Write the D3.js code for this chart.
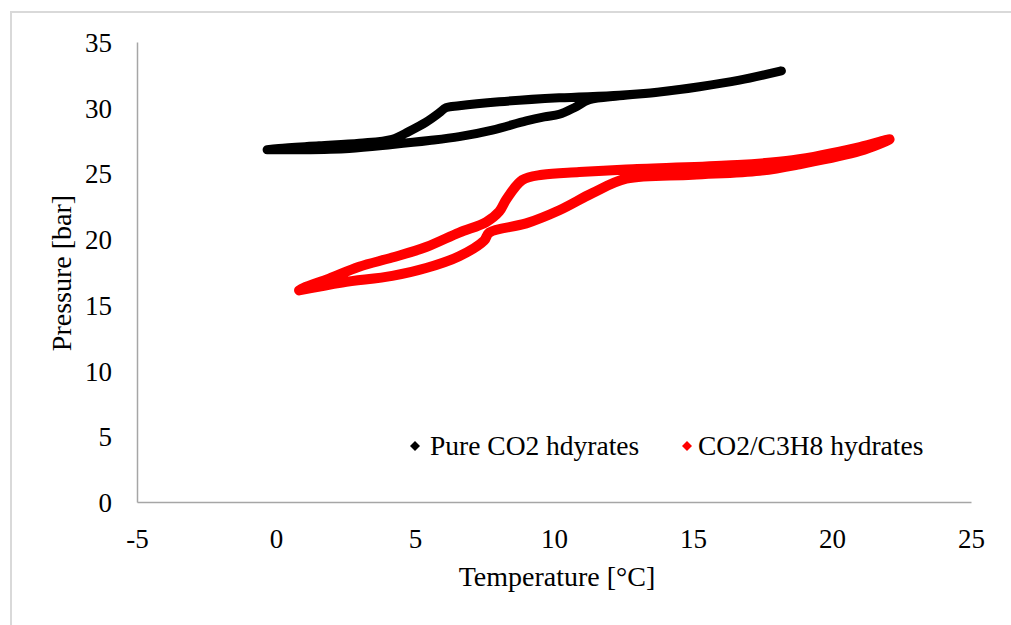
<!DOCTYPE html>
<html>
<head>
<meta charset="utf-8">
<script src="https://cdn.jsdelivr.net/npm/d3@7"></script>
<style>
  html, body { margin: 0; padding: 0; background: #fff; }
  svg { display: block; }
  text { font-family: "Liberation Serif", "Times New Roman", serif; fill: #000; }
</style>
</head>
<body>
<svg id="chart" width="1011" height="625"></svg>
<script>
// ---- Data ----
const xTicks = [-5, 0, 5, 10, 15, 20, 25];
const yTicks = [0, 5, 10, 15, 20, 25, 30, 35];
const seriesNames = ["Pure CO2 hdyrates", "CO2/C3H8 hydrates"];
const seriesColors = ["#000000", "#ff0000"];

// Pure CO2: heating branch (lower), then cooling branch (upper)
const co2Temp = [-0.32, 0.83, 2.63, 4.18, 5.51, 6.59, 7.78, 9.0, 9.65, 10.19, 10.73, 11.27, 12.35, 13.79, 15.23, 16.67, 18.18,
                 16.67, 15.23, 13.79, 12.35, 10.19, 8.03, 6.59, 6.12, 5.87, 5.4, 4.79, 4.18, 3.0, 1.55, 0.1, -0.32];
const co2Pres = [26.8, 26.8, 26.9, 27.2, 27.5, 27.8, 28.3, 29.0, 29.3, 29.5, 30.0, 30.6, 30.9, 31.2, 31.6, 32.1, 32.8,
                 32.1, 31.6, 31.2, 30.95, 30.75, 30.45, 30.15, 30.0, 29.6, 28.9, 28.2, 27.6, 27.3, 27.1, 26.9, 26.8];

// CO2/C3H8: heating branch (lower), then cooling branch (upper)
const mixTemp = [0.83, 2.38, 4.18, 5.4, 6.59, 7.49, 7.67, 9.0, 10.19, 11.38, 12.6, 14.98, 17.39, 18.83, 21.0, 22.07,
                 21.0, 18.58, 16.2, 12.6, 10.91, 9.58, 8.86, 8.28, 8.03, 7.56, 6.59, 5.4, 4.18, 2.99, 1.91, 1.0, 0.83];
const mixPres = [16.1, 16.7, 17.2, 17.8, 18.7, 19.9, 20.5, 21.2, 22.2, 23.5, 24.6, 24.9, 25.2, 25.7, 26.7, 27.6,
                 27.0, 26.0, 25.6, 25.3, 25.1, 24.9, 24.5, 23.0, 22.1, 21.3, 20.5, 19.4, 18.6, 17.9, 17.0, 16.3, 16.1];

// ---- Layout ----
const svg = d3.select("#chart");
const plotL = 137, plotR = 971, plotT = 42, plotB = 502;
const x = d3.scaleLinear().domain([-5, 25]).range([plotL, plotR]);
const y = d3.scaleLinear().domain([0, 35]).range([plotB, plotT]);

// outer frame (light gray)
svg.append("rect").attr("x", 11).attr("y", 12).attr("width", 1030).attr("height", 640)
  .attr("fill", "none").attr("stroke", "#d9d9d9").attr("stroke-width", 2);

// axes
const axisColor = "#a6a6a6";
const fmt = d => String(d);
const xAxis = svg.append("g").attr("transform", `translate(0,${plotB})`)
  .call(d3.axisBottom(x).tickValues(xTicks).tickSize(0).tickPadding(27).tickFormat(fmt));
const yAxis = svg.append("g").attr("transform", `translate(${plotL},0)`)
  .call(d3.axisLeft(y).tickValues(yTicks).tickSize(0).tickPadding(25).tickFormat(fmt));
[xAxis, yAxis].forEach(g => {
  g.select(".domain").attr("stroke", axisColor).attr("stroke-width", 1.5);
  g.selectAll("text").style("font-family", "'Liberation Serif', serif").style("font-size", "27px").attr("fill", "#000");
});
yAxis.selectAll("text").attr("dy", "0.35em");

// axis titles
svg.append("text").attr("x", 557).attr("y", 586).attr("text-anchor", "middle")
  .style("font-size", "28px").text("Temperature [°C]");
svg.append("text").attr("transform", "translate(71,273) rotate(-90)").attr("text-anchor", "middle")
  .style("font-size", "28px").text("Pressure [bar]");

// series drawn as thick traces through the read points
const line = d3.line().x(d => x(d[0])).y(d => y(d[1])).curve(d3.curveCatmullRom.alpha(0.5));
const series = [
  { pts: d3.zip(co2Temp, co2Pres), color: seriesColors[0], w: 9 },
  { pts: d3.zip(mixTemp, mixPres), color: seriesColors[1], w: 10 }
];
series.forEach(s => {
  svg.append("path").datum(s.pts).attr("d", line)
    .attr("fill", "none").attr("stroke", s.color).attr("stroke-width", s.w)
    .attr("stroke-linejoin", "round").attr("stroke-linecap", "round");
});

// legend
const legendX = [415, 687];
const legendText = [430, 698];
seriesNames.forEach((name, i) => {
  svg.append("path").attr("d", d3.symbol(d3.symbolSquare, 50)())
    .attr("transform", `translate(${legendX[i]},446) rotate(45)`).attr("fill", seriesColors[i]);
  svg.append("text").attr("x", legendText[i]).attr("y", 455).style("font-size", "27.5px").text(name);
});
</script>
</body>
</html>
